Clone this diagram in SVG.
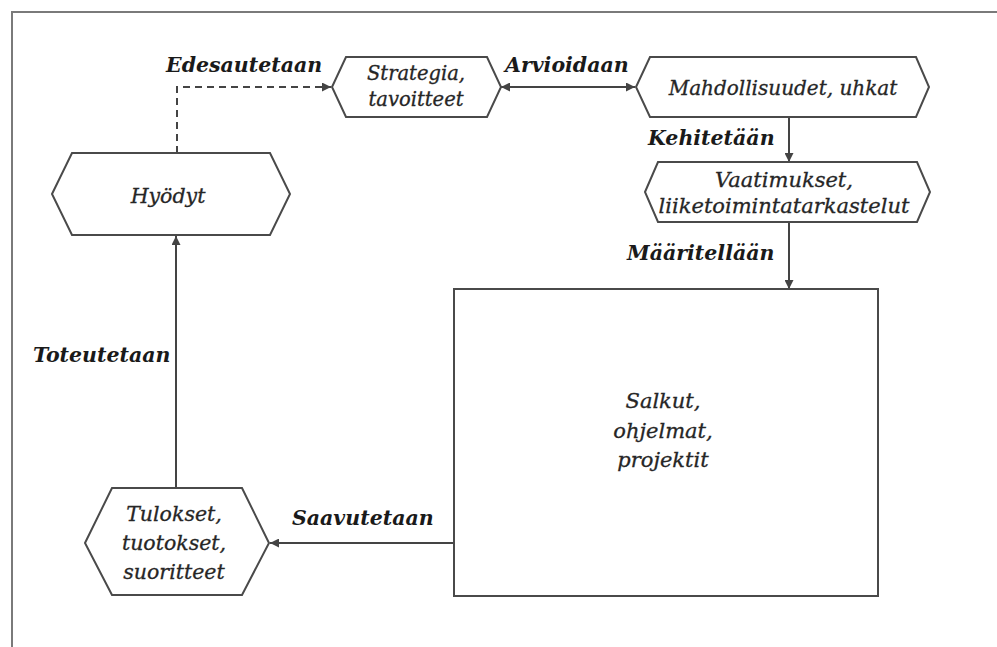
<svg xmlns="http://www.w3.org/2000/svg" width="997" height="647" viewBox="0 0 997 647">
  <style>
    .frame { fill: none; stroke: #7a7a7a; stroke-width: 2; }
    .shape { fill: #ffffff; stroke: #4a4a4a; stroke-width: 2; stroke-linejoin: miter; }
    .conn { fill: none; stroke: #444444; stroke-width: 2; }
    .dash { stroke-dasharray: 7 5; }
    .node { font-family: "DejaVu Serif", "Liberation Serif", serif; font-style: italic; fill: #262626; stroke: #262626; stroke-width: 0.3; text-anchor: middle; }
    .lbl { font-family: "DejaVu Serif", "Liberation Serif", serif; font-style: italic; font-weight: bold; fill: #1a1a1a; font-size: 20.5px; }
  </style>
  <defs>
    <marker id="arrow" viewBox="0 0 10 10" refX="10" refY="5" markerWidth="9" markerHeight="9" markerUnits="userSpaceOnUse" orient="auto-start-reverse">
      <path d="M0,0 L10,5 L0,10 z" fill="#444444"/>
    </marker>
  </defs>

  <rect width="997" height="647" fill="#ffffff"/>
  <!-- outer frame, open on the right and bottom -->
  <path class="frame" d="M12,660 L12,12 L1000,12"/>

  <!-- connectors with their verb labels -->
  <g id="connectors">
    <path class="conn dash" d="M177,153 L177,87 L331,87" marker-end="url(#arrow)"/>
    <path class="conn" d="M501,87 L635,87" marker-start="url(#arrow)" marker-end="url(#arrow)"/>
    <path class="conn" d="M789,117 L789,162" marker-end="url(#arrow)"/>
    <path class="conn" d="M789,222 L789,289" marker-end="url(#arrow)"/>
    <path class="conn" d="M454,543 L270,543" marker-end="url(#arrow)"/>
    <path class="conn" d="M176,488 L176,236" marker-end="url(#arrow)"/>
    <text class="lbl" x="166" y="72">Edesautetaan</text>
    <text class="lbl" x="505" y="72">Arvioidaan</text>
    <text class="lbl" x="648" y="145">Kehitetään</text>
    <text class="lbl" x="627" y="260">Määritellään</text>
    <text class="lbl" x="292" y="525">Saavutetaan</text>
    <text class="lbl" x="33" y="362">Toteutetaan</text>
  </g>

  <g id="hyodyt">
    <polygon class="shape" points="52,194 72,153 270,153 290,194 270,235 72,235"/>
    <text class="node" x="168" y="203" font-size="20.5">Hyödyt</text>
  </g>

  <g id="strategia">
    <polygon class="shape" points="332,87 346,57 487,57 501,87 487,117 346,117"/>
    <text class="node" x="416" y="80" font-size="19.5">Strategia,</text>
    <text class="node" x="416" y="106" font-size="19.5">tavoitteet</text>
  </g>

  <g id="mahdollisuudet">
    <polygon class="shape" points="636,87 650,57 916,57 929,87 916,117 650,117"/>
    <text class="node" x="783" y="95" font-size="20">Mahdollisuudet, uhkat</text>
  </g>

  <g id="vaatimukset">
    <polygon class="shape" points="645,192 658,162 917,162 930,192 917,222 658,222"/>
    <text class="node" x="784" y="187" font-size="21">Vaatimukset,</text>
    <text class="node" x="784" y="213" font-size="21">liiketoimintatarkastelut</text>
  </g>

  <g id="salkut">
    <rect class="shape" x="454" y="289" width="424" height="307"/>
    <text class="node" x="663" y="408" font-size="21">Salkut,</text>
    <text class="node" x="663" y="438" font-size="21">ohjelmat,</text>
    <text class="node" x="663" y="467" font-size="21">projektit</text>
  </g>

  <g id="tulokset">
    <polygon class="shape" points="85,543 112,488 242,488 269,543 242,595 112,595"/>
    <text class="node" x="174" y="521" font-size="20.5">Tulokset,</text>
    <text class="node" x="174" y="550" font-size="20.5">tuotokset,</text>
    <text class="node" x="174" y="579" font-size="20.5">suoritteet</text>
  </g>
</svg>
